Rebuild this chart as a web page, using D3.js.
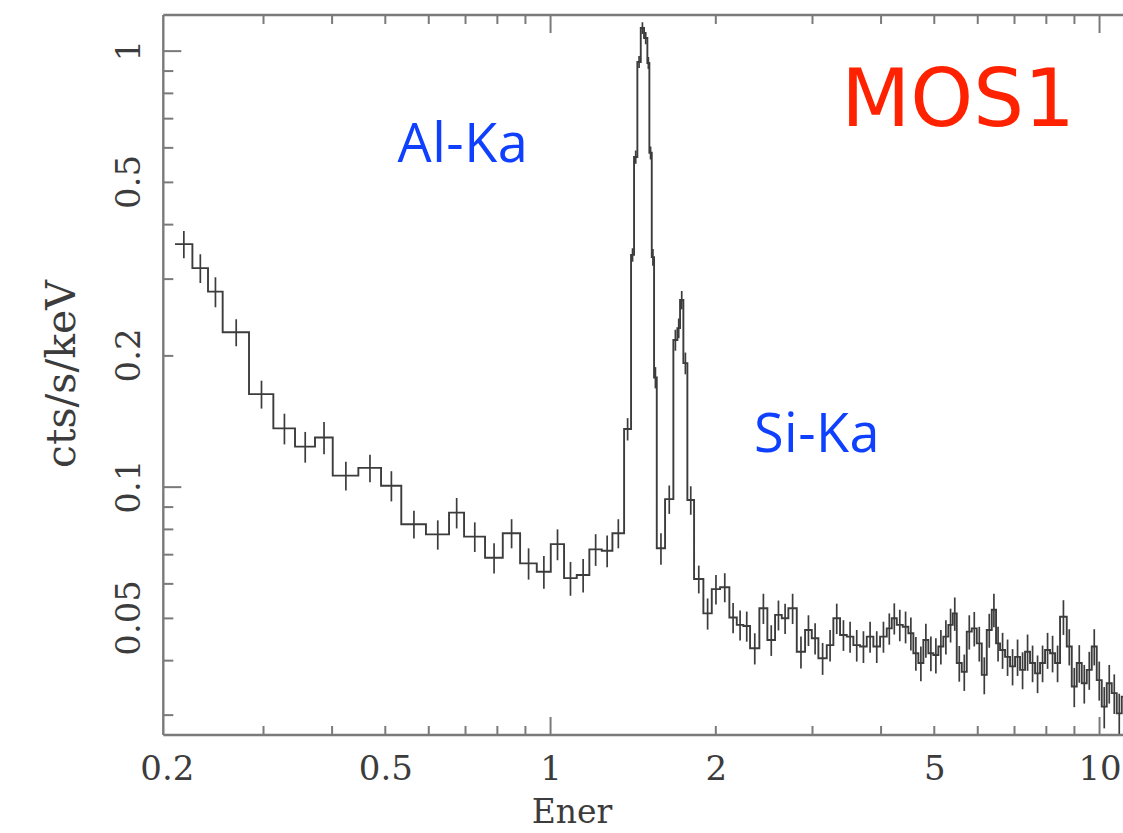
<!DOCTYPE html>
<html>
<head>
<meta charset="utf-8">
<script src="https://cdn.jsdelivr.net/npm/d3@7"></script>
<style>
  html, body { margin: 0; padding: 0; background: #fff; }
  svg { display: block; }
</style>
</head>
<body>
<svg id="chart" width="1123" height="833"></svg>
<script>
// ---------------- data ----------------
// bin edges in keV (N+1 values)
const binEdges = [
  0.2074, 0.2231, 0.2382, 0.2533, 0.2829, 0.3133, 0.3431, 0.3731, 0.4019, 0.4475,
  0.4922, 0.5358, 0.5942, 0.6546, 0.6972, 0.7613, 0.8201, 0.8819, 0.9458, 1.003,
  1.0605, 1.1184, 1.1792, 1.2422, 1.2989, 1.3642, 1.4046,
  1.4223, 1.4422, 1.4629, 1.4833, 1.5040, 1.5167, 1.5320, 1.5469, 1.5645, 1.6199,
  1.6773, 1.7057, 1.7251, 1.7492, 1.7788, 1.8295,
  1.9023, 1.9705, 2.0403, 2.1214, 2.1883, 2.2497, 2.3138, 2.4058, 2.4879, 2.5697,
  2.6430, 2.7172, 2.8146, 2.9143, 2.9973, 3.0815, 3.1918, 3.2814, 3.3749, 3.4711,
  3.5685, 3.6703, 3.7749, 3.8809, 3.9916, 4.1053, 4.1923, 4.2811, 4.3901, 4.4943,
  4.5896, 4.6868, 4.7862, 4.8877, 4.9913, 5.0970, 5.2051, 5.3154, 5.4144, 5.5059,
  5.6226, 5.7418, 5.8634, 5.9877, 6.1146, 6.2441, 6.3764, 6.4925, 6.6022, 6.7421,
  6.8850, 7.0307, 7.1798, 7.3320, 7.4874, 7.6460, 7.8081, 7.9737, 8.1427, 8.3152,
  8.4914, 8.7336, 8.9187, 9.1077, 9.3007, 9.4978, 9.6985, 9.9040, 10.114, 10.328,
  10.547, 10.771, 10.999, 11.199
];
// count rate per bin (cts/s/keV)
const rate = [
  0.360, 0.317, 0.280, 0.226, 0.163, 0.136, 0.1235, 0.1296, 0.1060, 0.1104,
  0.1005, 0.0820, 0.0777, 0.0872, 0.0768, 0.0687, 0.0782, 0.0667, 0.0638, 0.0738,
  0.0617, 0.0627, 0.0718, 0.0713, 0.0782, 0.1356,
  0.340, 0.570, 0.942, 1.127, 1.069, 0.937, 0.583, 0.336, 0.178, 0.0722,
  0.0936, 0.217, 0.231, 0.268, 0.192, 0.0932,
  0.0614, 0.0512, 0.0582, 0.0588, 0.0501, 0.0482, 0.0479, 0.0426, 0.0526, 0.0445,
  0.0508, 0.0499, 0.0526, 0.0418, 0.0469, 0.0449, 0.0404, 0.0433, 0.0499, 0.0457,
  0.0453, 0.0433, 0.0430, 0.0453, 0.0430, 0.0453, 0.0473, 0.0499, 0.0482, 0.0477,
  0.0461, 0.0415, 0.0394, 0.0445, 0.0415, 0.0411, 0.0430, 0.0453, 0.0482, 0.0512,
  0.0394, 0.0376, 0.0465, 0.0473, 0.0437, 0.0370, 0.0469, 0.0522, 0.0437, 0.0422,
  0.0407, 0.0387, 0.0407, 0.0380, 0.0418, 0.0394, 0.0373, 0.0394, 0.0422, 0.0415,
  0.0394, 0.0503, 0.0430, 0.0348, 0.0394, 0.0354, 0.0380, 0.0430, 0.0360, 0.0313,
  0.0354, 0.0336, 0.0302, 0.0330
];
// 1-sigma errors per bin
const rateErr = [
  0.026, 0.024, 0.022, 0.016, 0.012, 0.011, 0.010, 0.011, 0.008, 0.008,
  0.008, 0.006, 0.006, 0.007, 0.006, 0.0055, 0.006, 0.0055, 0.0055, 0.006,
  0.0055, 0.0055, 0.006, 0.006, 0.006, 0.008,
  0.012, 0.020, 0.030, 0.035, 0.035, 0.030, 0.020, 0.015, 0.010, 0.006,
  0.007, 0.012, 0.012, 0.013, 0.011, 0.007,
  0.0045, 0.0042, 0.0045, 0.0045, 0.0040, 0.0038, 0.0038, 0.0035, 0.0042, 0.0036,
  0.0040, 0.0040, 0.0042, 0.0035, 0.0038, 0.0037, 0.0034, 0.0036, 0.0040, 0.0037,
  0.0037, 0.0036, 0.0036, 0.0037, 0.0036, 0.0037, 0.0039, 0.0041, 0.0040, 0.0040,
  0.0040, 0.0037, 0.0036, 0.0040, 0.0038, 0.0038, 0.0039, 0.0041, 0.0043, 0.0045,
  0.0037, 0.0036, 0.0042, 0.0043, 0.0040, 0.0036, 0.0042, 0.0046, 0.0040, 0.0040,
  0.0039, 0.0037, 0.0039, 0.0037, 0.0040, 0.0038, 0.0037, 0.0038, 0.0040, 0.0040,
  0.0038, 0.0046, 0.0041, 0.0036, 0.0039, 0.0036, 0.0038, 0.0041, 0.0037, 0.0034,
  0.0036, 0.0035, 0.0033, 0.0035
];

const xMinorTicks = [0.3, 0.4, 0.5, 0.6, 0.7, 0.8, 0.9, 2, 3, 4, 5, 6, 7, 8, 9];
const xMajorTicks = [1, 10];
const xTickLabels = [0.2, 0.5, 1, 2, 5, 10];
const yMinorTicks = [0.03, 0.04, 0.05, 0.06, 0.07, 0.08, 0.09, 0.2, 0.3, 0.4, 0.5, 0.6, 0.7, 0.8, 0.9];
const yMajorTicks = [0.1, 1];
const yTickLabels = [0.05, 0.1, 0.2, 0.5, 1];

const xTitle = "Ener";
const yTitle = "cts/s/keV";
const annotations = [
  { text: "MOS1", kind: "title" },
  { text: "Al-Ka", kind: "line", energy: 0.694, level: 0.556 },
  { text: "Si-Ka", kind: "line", energy: 3.064, level: 0.1201 }
];

// ---------------- layout ----------------
const svg = d3.select("#chart");
const L = 163.3, R = 1123, T = 15, B = 735;
const x = d3.scaleLog().domain([0.19747, 11.057]).range([L, R]);
const y = d3.scaleLog().domain([0.02694, 1.207]).range([B, T]);

const ink = "#3c3c3c";
const frameCol = "#7a7a7a";
const serif = "'DejaVu Serif', 'Liberation Serif', serif";

// ---------------- spectrum ----------------
const n = rate.length;
const bins = d3.range(n).map(i => ({
  lo: binEdges[i], hi: binEdges[i + 1], v: rate[i], e: rateErr[i]
}));

let pathD = "";
bins.forEach((b, i) => {
  const x0 = x(b.lo), x1 = x(b.hi), yy = y(b.v);
  pathD += (i === 0 ? "M" : "L") + x0 + "," + yy + "L" + x1 + "," + yy;
});
svg.append("clipPath").attr("id", "clip").append("rect")
  .attr("x", L).attr("y", T).attr("width", R - L + 20).attr("height", B - T);
const plot = svg.append("g").attr("clip-path", "url(#clip)");

plot.append("path").attr("d", pathD)
  .attr("fill", "none").attr("stroke", ink).attr("stroke-width", 1.9)
  .attr("stroke-linejoin", "miter");

plot.selectAll("line.err").data(bins).join("line")
  .attr("class", "err")
  .attr("x1", d => x((d.lo + d.hi) / 2)).attr("x2", d => x((d.lo + d.hi) / 2))
  .attr("y1", d => y(d.v - d.e)).attr("y2", d => y(d.v + d.e))
  .attr("stroke", ink).attr("stroke-width", 1.7);

// ---------------- frame & ticks ----------------
const frame = svg.append("g");
frame.append("line").attr("x1", L).attr("x2", L).attr("y1", T).attr("y2", B)
  .attr("stroke", frameCol).attr("stroke-width", 2.4);
frame.append("line").attr("x1", L).attr("x2", R + 5).attr("y1", B).attr("y2", B)
  .attr("stroke", frameCol).attr("stroke-width", 2.4);
frame.append("line").attr("x1", L).attr("x2", R + 5).attr("y1", T).attr("y2", T)
  .attr("stroke", frameCol).attr("stroke-width", 2.4);

function tickStyle(g) {
  g.select(".domain").remove();
  g.selectAll("text").remove();
  g.selectAll(".tick line").attr("stroke", frameCol).attr("stroke-width", 2);
}
// bottom
svg.append("g").attr("transform", `translate(0,${B})`)
  .call(d3.axisBottom(x).tickValues(xMinorTicks).tickSize(-9)).call(tickStyle);
svg.append("g").attr("transform", `translate(0,${B})`)
  .call(d3.axisBottom(x).tickValues(xMajorTicks).tickSize(-18)).call(tickStyle);
// top
svg.append("g").attr("transform", `translate(0,${T})`)
  .call(d3.axisTop(x).tickValues(xMinorTicks).tickSize(-9)).call(tickStyle);
svg.append("g").attr("transform", `translate(0,${T})`)
  .call(d3.axisTop(x).tickValues(xMajorTicks).tickSize(-18)).call(tickStyle);
// left
svg.append("g").attr("transform", `translate(${L},0)`)
  .call(d3.axisLeft(y).tickValues(yMinorTicks).tickSize(-10)).call(tickStyle);
svg.append("g").attr("transform", `translate(${L},0)`)
  .call(d3.axisLeft(y).tickValues(yMajorTicks).tickSize(-18)).call(tickStyle);

// tick labels
const fmt = d => String(d);
svg.selectAll("text.xl").data(xTickLabels).join("text")
  .attr("class", "xl")
  .attr("x", d => x(d) + 1).attr("y", 780)
  .attr("text-anchor", "middle")
  .attr("font-family", serif).attr("font-size", 34)
  .attr("fill", ink).text(fmt);

svg.selectAll("text.yl").data(yTickLabels).join("text")
  .attr("class", "yl")
  .attr("transform", d => `translate(140,${y(d)}) rotate(-90)`)
  .attr("text-anchor", "middle")
  .attr("font-family", serif).attr("font-size", 34)
  .attr("fill", ink).text(fmt);

// axis titles
svg.append("text")
  .attr("x", 572).attr("y", 823)
  .attr("text-anchor", "middle")
  .attr("font-family", serif).attr("font-size", 33)
  .attr("fill", ink).text(xTitle);

svg.append("text")
  .attr("transform", "translate(75,374) rotate(-90)")
  .attr("text-anchor", "middle")
  .attr("font-family", serif).attr("font-size", 41)
  .attr("fill", ink).text(yTitle);

// ---------------- annotations ----------------
const title = annotations.find(a => a.kind === "title");
svg.append("text")
  .attr("x", 958).attr("y", 126)
  .attr("text-anchor", "middle")
  .attr("font-family", "'DejaVu Sans', sans-serif").attr("font-size", 80)
  .attr("fill", "#ff2200").text(title.text);

annotations.filter(a => a.kind === "line").forEach(a => {
  svg.append("text")
    .attr("x", x(a.energy)).attr("y", y(a.level))
    .attr("text-anchor", "middle")
    .attr("font-family", "'Open Sans', sans-serif").attr("font-size", 54)
    .attr("letter-spacing", 0.5)
    .attr("fill", "#1040ff").text(a.text);
});
</script>
</body>
</html>
